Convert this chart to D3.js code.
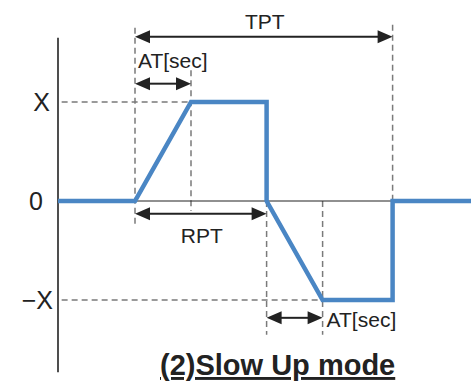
<!DOCTYPE html>
<html>
<head>
<meta charset="utf-8">
<script src="https://cdn.jsdelivr.net/npm/d3@7"></script>
<style>
    body { margin: 0; background: #fff; }
    text { font-family: "Liberation Sans", Arial, sans-serif; fill: #222; }
</style>
</head>
<body>
<div id="chart"></div>
<script>
// waveform, time in units of AT, level in units of X
const times  = [-1.375, 0, 1, 2.35, 2.35, 3.35, 4.6, 4.6, 6.0];
const levels = [0, 0, 1, 1, 0, -1, -1, 0, 0];

const levelTicks = [1, 0, -1];
const levelLabels = ["X", "0", "\u2212X"];

// time marks used by the annotations
const tStart = 0, tAT = 1, tDown = 2.35, tDownEnd = 3.35, tEnd = 4.6;

const width = 471, height = 381;

const svg = d3.select("#chart")
    .append("svg")
    .attr("width", width)
    .attr("height", height);

const x = d3.scaleLinear().domain([-1.375, 6.0]).range([58, 471]);
const y = d3.scaleLinear().domain([-1, 1]).range([300, 102]);

const dashColor = "#7a7a7a";
const dark = "#222";

// dashed guides
let guides = svg.append("g")
    .attr("stroke", dashColor)
    .attr("stroke-width", 1.5)
    .attr("stroke-dasharray", "6,4")
    .attr("fill", "none");

guides.append("line").attr("x1", x(-1.31)).attr("x2", x(tAT)).attr("y1", y(1)).attr("y2", y(1));
guides.append("line").attr("x1", x(-1.31)).attr("x2", x(tDownEnd)).attr("y1", y(-1)).attr("y2", y(-1));
guides.append("line").attr("x1", x(tStart)).attr("x2", x(tStart)).attr("y1", y(1.75)).attr("y2", y(-0.27));
guides.append("line").attr("x1", x(tAT)).attr("x2", x(tAT)).attr("y1", y(1.32)).attr("y2", y(-0.1));
guides.append("line").attr("x1", x(tDown)).attr("x2", x(tDown)).attr("y1", y(0)).attr("y2", y(-1.35));
guides.append("line").attr("x1", x(tDownEnd)).attr("x2", x(tDownEnd)).attr("y1", y(0)).attr("y2", y(-1.35));
guides.append("line").attr("x1", x(tEnd)).attr("x2", x(tEnd)).attr("y1", y(1.78)).attr("y2", y(0));

// vertical axis and zero line
svg.append("line")
    .attr("x1", x(-1.375)).attr("x2", x(-1.375))
    .attr("y1", y(1.65)).attr("y2", y(-1.73))
    .attr("stroke", dark).attr("stroke-width", 1.6);

svg.append("line")
    .attr("x1", x(-1.375)).attr("x2", x(tEnd))
    .attr("y1", y(0)).attr("y2", y(0))
    .attr("stroke", dark).attr("stroke-width", 1.2);

// level labels
const labelShift = [-8, -15, -5];
svg.append("g")
    .selectAll("text")
    .data(levelTicks)
    .enter()
    .append("text")
    .attr("x", (d, i) => x(-1.375) + labelShift[i])
    .attr("y", d => y(d))
    .attr("dy", "0.36em")
    .attr("text-anchor", "end")
    .style("font-size", "25px")
    .text((d, i) => levelLabels[i]);

// the waveform
const wave = times.map((t, i) => [t, levels[i]]);
svg.append("path")
    .datum(wave)
    .attr("fill", "none")
    .attr("stroke", "#4a86c4")
    .attr("stroke-width", 4.5)
    .attr("stroke-linejoin", "miter")
    .attr("d", d3.line().x(d => x(d[0])).y(d => y(d[1])));

// double arrows
function arrow(t1, t2, lv) {
    let x1 = x(t1), x2 = x(t2), yy = y(lv);
    let head = 15, half = 6.5;
    let g = svg.append("g");
    g.append("line")
        .attr("x1", x1 + head - 2).attr("x2", x2 - head + 2)
        .attr("y1", yy).attr("y2", yy)
        .attr("stroke", dark).attr("stroke-width", 2);
    g.append("path")
        .attr("d", `M${x1},${yy}L${x1 + head},${yy - half}L${x1 + head},${yy + half}Z`)
        .attr("fill", dark);
    g.append("path")
        .attr("d", `M${x2},${yy}L${x2 - head},${yy - half}L${x2 - head},${yy + half}Z`)
        .attr("fill", dark);
}

arrow(tStart, tEnd, 1.66);
arrow(tStart, tAT, 1.185);
arrow(tStart, tDown, -0.13);
arrow(tDown, tDownEnd, -1.18);

function note(txt, xx, yy, anchor) {
    svg.append("text")
        .attr("x", xx).attr("y", yy)
        .attr("text-anchor", anchor)
        .style("font-size", "21px")
        .text(txt);
}

note("TPT", (x(tStart) + x(tEnd)) / 2 + 1, 29, "middle");
note("AT[sec]", x(tStart) + 3, 68, "start");
note("RPT", (x(tStart) + x(tDown)) / 2 + 1, 243, "middle");
note("AT[sec]", x(tDownEnd) + 4, 327, "start");

// title
svg.append("text")
    .attr("x", 160)
    .attr("y", 375)
    .style("font-size", "29px")
    .style("font-weight", "bold")
    .style("text-decoration", "underline")
    .text("(2)Slow Up mode");
</script>
</body>
</html>
